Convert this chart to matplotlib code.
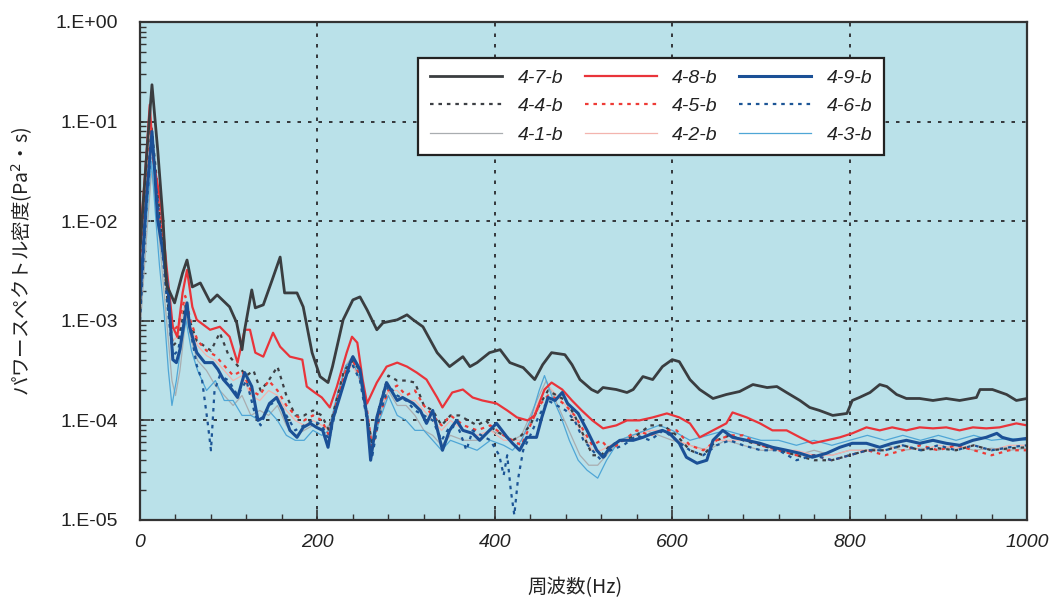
import numpy as np
import matplotlib
matplotlib.use("Agg")
import matplotlib.pyplot as plt
from matplotlib.ticker import FixedLocator, NullFormatter, LogLocator

plt.rcParams['font.family'] = ['Liberation Sans', 'Noto Sans CJK JP', 'DejaVu Sans']

# Power spectral density, stored as base-10 exponents (value = 10**exp)
f_47 = [0, 7, 13.5, 20, 26, 30, 39, 48, 53, 59, 68, 79, 87, 101, 109, 115, 118, 126, 130, 139,
        149, 158, 163, 177, 184, 194, 203, 212, 217, 229, 240, 248, 256, 267, 274, 290, 301, 308,
        319, 335, 349, 364, 372, 380, 394, 406, 417, 432, 445, 454, 464, 479, 487, 496, 509, 516,
        522, 537, 549, 556, 567, 578, 589, 600, 608, 620, 631, 646, 661, 676, 691, 707, 718, 729,
        744, 755, 766, 781, 797, 803, 811, 823, 834, 842, 853, 864, 879, 894, 909, 924, 943, 947,
        961, 977, 988, 1000]
e_47 = [-2.29, -1.39, -0.63, -1.29, -1.99, -2.64, -2.82, -2.52, -2.39, -2.66, -2.62, -2.81, -2.74,
        -2.86, -3.02, -3.29, -3.09, -2.69, -2.87, -2.84, -2.59, -2.36, -2.72, -2.72, -2.86, -3.32,
        -3.56, -3.62, -3.46, -2.99, -2.79, -2.76, -2.89, -3.09, -3.02, -2.99, -2.94, -2.99, -3.06,
        -3.32, -3.46, -3.36, -3.46, -3.42, -3.32, -3.29, -3.42, -3.47, -3.59, -3.44, -3.32, -3.34,
        -3.44, -3.59, -3.69, -3.72, -3.67, -3.69, -3.72, -3.69, -3.56, -3.59, -3.46, -3.39, -3.41,
        -3.59, -3.69, -3.78, -3.74, -3.71, -3.64, -3.67, -3.66, -3.72, -3.80, -3.87, -3.90, -3.95,
        -3.93, -3.80, -3.77, -3.72, -3.64, -3.66, -3.74, -3.78, -3.78, -3.80, -3.78, -3.80, -3.77,
        -3.69, -3.69, -3.74, -3.80, -3.78]

f_48 = [0, 6, 11, 15, 23, 30, 37, 42, 48, 53, 59, 64, 79, 90, 101, 110, 118, 124, 130, 139, 150,
        158, 169, 183, 188, 197, 205, 214, 222, 233, 239, 245, 251, 256, 267, 278, 290, 301, 312,
        323, 335, 341, 352, 364, 375, 386, 402, 414, 425, 437, 445, 456, 464, 476, 487, 498, 510,
        522, 537, 549, 563, 578, 594, 608, 620, 631, 646, 661, 668, 684, 699, 713, 729, 744, 758,
        774, 789, 803, 819, 834, 848, 864, 879, 894, 909, 924, 939, 954, 969, 988, 1000]
e_48 = [-2.19, -1.49, -0.83, -1.39, -1.79, -2.46, -3.06, -3.16, -2.72, -2.49, -2.86, -2.99, -3.09,
        -3.06, -3.16, -3.42, -3.09, -3.09, -3.32, -3.36, -3.12, -3.26, -3.36, -3.39, -3.66, -3.72,
        -3.77, -3.87, -3.66, -3.32, -3.16, -3.22, -3.59, -3.83, -3.62, -3.46, -3.42, -3.46, -3.52,
        -3.59, -3.77, -3.87, -3.72, -3.69, -3.77, -3.80, -3.83, -3.90, -3.97, -4.00, -3.95, -3.69,
        -3.62, -3.69, -3.80, -3.90, -4.00, -4.08, -4.05, -4.00, -4.00, -3.97, -3.93, -3.97, -4.03,
        -4.17, -4.10, -4.03, -3.92, -3.97, -4.03, -4.10, -4.10, -4.17, -4.23, -4.20, -4.17, -4.13,
        -4.07, -4.10, -4.07, -4.10, -4.07, -4.08, -4.07, -4.10, -4.07, -4.08, -4.07, -4.03, -4.05]

f_49 = [0, 7, 13.5, 17, 20, 25, 32, 37, 41, 45, 53, 56, 64, 73, 82, 88, 94, 101, 110, 118, 126,
        133, 139, 146, 154, 161, 169, 177, 184, 192, 199, 206, 212, 217, 225, 237, 240, 248, 256,
        260, 267, 278, 290, 296, 308, 316, 323, 330, 341, 349, 357, 364, 375, 383, 394, 402, 414,
        420, 428, 436, 447, 453, 460, 468, 476, 482, 494, 504, 515, 522, 530, 541, 556, 567, 578,
        589, 597, 608, 616, 628, 639, 646, 657, 668, 684, 699, 713, 729, 744, 758, 774, 789, 803,
        819, 834, 848, 864, 879, 894, 909, 924, 939, 954, 966, 972, 984, 1000]
e_49 = [-2.79, -1.79, -1.10, -1.56, -1.99, -2.26, -2.72, -3.39, -3.42, -3.29, -2.82, -3.06, -3.32,
        -3.42, -3.42, -3.49, -3.59, -3.66, -3.77, -3.52, -3.66, -4.00, -3.97, -3.83, -3.77, -3.90,
        -4.10, -4.17, -4.07, -4.03, -4.07, -4.10, -4.27, -4.00, -3.77, -3.42, -3.36, -3.49, -3.97,
        -4.40, -3.97, -3.62, -3.80, -3.77, -3.83, -3.90, -4.03, -3.90, -4.30, -4.10, -4.00, -4.10,
        -4.13, -4.20, -4.10, -4.03, -4.17, -4.23, -4.30, -4.17, -4.17, -3.97, -3.77, -3.80, -3.72,
        -3.83, -3.93, -4.10, -4.30, -4.37, -4.27, -4.20, -4.20, -4.17, -4.13, -4.10, -4.13, -4.23,
        -4.37, -4.43, -4.40, -4.20, -4.10, -4.17, -4.20, -4.23, -4.27, -4.30, -4.33, -4.37, -4.33,
        -4.27, -4.23, -4.23, -4.27, -4.23, -4.20, -4.23, -4.20, -4.23, -4.25, -4.20, -4.17, -4.13,
        -4.17, -4.20, -4.18]

f_44 = [0, 7, 13, 18, 24, 31, 37, 43, 51, 56, 64, 72, 80, 90, 100, 110, 120, 128, 136, 145, 155,
        165, 175, 185, 195, 205, 213, 220, 230, 240, 248, 256, 262, 270, 280, 290, 300, 310, 320,
        330, 340, 350, 360, 370, 380, 390, 400, 410, 420, 430, 440, 450, 460, 470, 480, 490, 500,
        510, 520, 530, 545, 560, 575, 590, 605, 620, 635, 650, 665, 680, 700, 720, 740, 760, 780,
        800, 820, 840, 860, 880, 900, 920, 940, 960, 980, 1000]
e_44 = [-2.9, -1.8, -1.05, -1.5, -2.1, -2.8, -3.25, -3.2, -2.85, -3.0, -3.2, -3.25, -3.3, -3.12,
        -3.35, -3.45, -3.55, -3.5, -3.7, -3.6, -3.46, -3.75, -3.95, -3.95, -3.9, -3.95, -4.1, -3.85,
        -3.5, -3.4, -3.5, -3.95, -4.25, -3.85, -3.55, -3.6, -3.6, -3.62, -3.85, -3.9, -4.05, -3.95,
        -3.95, -4.0, -4.05, -4.0, -4.1, -4.15, -4.2, -4.15, -4.05, -3.85, -3.7, -3.75, -3.8, -3.95,
        -4.15, -4.35, -4.35, -4.25, -4.2, -4.15, -4.05, -4.05, -4.15, -4.3, -4.35, -4.2, -4.15, -4.2,
        -4.25, -4.3, -4.35, -4.4, -4.4, -4.35, -4.3, -4.3, -4.25, -4.3, -4.28, -4.3, -4.25, -4.3,
        -4.28, -4.27]

f_45 = [0, 6, 11, 16, 23, 30, 37, 43, 51, 57, 65, 75, 85, 95, 105, 115, 125, 135, 145, 155, 165,
        175, 185, 195, 205, 213, 222, 232, 240, 248, 256, 262, 270, 280, 290, 300, 310, 320, 330,
        340, 350, 365, 380, 395, 410, 420, 430, 440, 450, 460, 470, 480, 490, 500, 510, 520, 530,
        545, 560, 575, 590, 605, 620, 635, 650, 665, 680, 700, 720, 740, 760, 780, 800, 820, 840,
        860, 880, 900, 920, 940, 960, 980, 1000]
e_45 = [-2.4, -1.6, -0.95, -1.4, -2.0, -2.6, -3.1, -3.05, -2.75, -3.0, -3.2, -3.3, -3.35, -3.45,
        -3.55, -3.5, -3.7, -3.75, -3.6, -3.7, -3.85, -3.95, -4.0, -3.95, -4.0, -4.15, -3.8, -3.5,
        -3.4, -3.55, -3.9, -4.3, -3.95, -3.7, -3.65, -3.75, -3.7, -3.85, -3.95, -4.05, -3.95, -4.05,
        -4.1, -4.05, -4.15, -4.2, -4.25, -4.05, -3.85, -3.75, -3.78, -3.85, -3.95, -4.1, -4.25, -4.2,
        -4.3, -4.2, -4.1, -4.15, -4.1, -4.1, -4.25, -4.3, -4.2, -4.15, -4.15, -4.25, -4.3, -4.35,
        -4.35, -4.4, -4.35, -4.3, -4.35, -4.3, -4.25, -4.3, -4.25, -4.3, -4.35, -4.3, -4.3]

f_46 = [0, 7, 13, 18, 24, 31, 37, 43, 52, 58, 64, 70, 76, 80, 84, 90, 100, 110, 120, 130, 136,
        145, 155, 165, 175, 185, 195, 205, 213, 222, 232, 240, 248, 256, 262, 270, 280, 290, 300,
        310, 320, 330, 340, 350, 360, 368, 375, 385, 395, 405, 410, 414, 418, 422, 426, 432, 440,
        450, 460, 470, 480, 490, 500, 510, 520, 530, 545, 560, 575, 590, 605, 620, 635, 650, 665,
        680, 700, 720, 740, 760, 780, 800, 820, 840, 860, 880, 900, 920, 940, 960, 980, 1000]
e_46 = [-3.0, -1.9, -1.2, -1.6, -2.2, -2.85, -3.35, -3.3, -2.85, -3.15, -3.45, -3.6, -4.0, -4.3,
        -3.7, -3.55, -3.6, -3.75, -3.6, -3.95, -4.05, -3.85, -3.8, -3.95, -4.1, -4.05, -4.0, -4.05,
        -4.2, -3.85, -3.55, -3.45, -3.6, -4.0, -4.35, -3.95, -3.65, -3.75, -3.8, -3.9, -3.95, -4.0,
        -4.2, -4.05, -4.1, -4.3, -4.1, -4.15, -4.2, -4.35, -4.55, -4.35, -4.7, -4.95, -4.6, -4.3,
        -4.15, -3.95, -3.8, -3.85, -3.9, -4.0, -4.2, -4.3, -4.4, -4.3, -4.25, -4.15, -4.2, -4.1,
        -4.2, -4.3, -4.35, -4.25, -4.2, -4.25, -4.3, -4.3, -4.4, -4.35, -4.4, -4.35, -4.3, -4.3,
        -4.25, -4.3, -4.25, -4.3, -4.25, -4.3, -4.27, -4.25]

f_41 = [0, 7, 13, 18, 24, 31, 36, 40, 45, 52, 58, 65, 75, 85, 95, 105, 115, 125, 135, 145, 155,
        165, 175, 185, 195, 205, 213, 222, 232, 240, 248, 256, 262, 270, 280, 290, 300, 310, 320,
        330, 340, 350, 365, 380, 395, 410, 420, 430, 440, 450, 458, 466, 476, 486, 496, 506, 516,
        526, 540, 555, 570, 585, 600, 620, 640, 660, 680, 700, 720, 740, 760, 780, 800, 820, 840,
        860, 880, 900, 920, 940, 960, 980, 1000]
e_41 = [-3.1, -2.2, -1.5, -1.8, -2.4, -3.1, -3.6, -3.75, -3.5, -2.95, -3.2, -3.4, -3.5, -3.65,
        -3.75, -3.85, -3.75, -3.95, -3.9, -3.95, -3.85, -4.05, -4.15, -4.1, -4.05, -4.1, -4.05,
        -3.8, -3.45, -3.35, -3.55, -3.95, -4.2, -3.95, -3.7, -3.85, -3.85, -3.95, -4.1, -4.15,
        -4.25, -4.15, -4.2, -4.2, -4.1, -4.15, -4.2, -4.15, -3.95, -3.75, -3.6, -3.75, -3.95, -4.15,
        -4.35, -4.45, -4.45, -4.35, -4.2, -4.15, -4.1, -4.15, -4.2, -4.25, -4.3, -4.2, -4.25, -4.3,
        -4.3, -4.35, -4.3, -4.35, -4.3, -4.3, -4.25, -4.3, -4.28, -4.3, -4.25, -4.3, -4.28, -4.3,
        -4.28]

f_42 = [0, 6, 11, 16, 23, 30, 37, 43, 51, 57, 65, 75, 85, 95, 105, 115, 125, 135, 145, 155, 165,
        175, 185, 195, 205, 213, 222, 232, 240, 248, 256, 262, 270, 280, 290, 300, 310, 320, 330,
        340, 350, 365, 380, 395, 410, 420, 430, 440, 450, 460, 470, 480, 490, 500, 510, 520, 530,
        545, 560, 575, 590, 605, 620, 635, 650, 665, 680, 700, 720, 740, 760, 780, 800, 820, 840,
        860, 880, 900, 920, 940, 960, 980, 1000]
e_42 = [-2.6, -1.7, -1.05, -1.5, -2.1, -2.7, -3.2, -3.15, -2.8, -3.05, -3.25, -3.35, -3.4, -3.5,
        -3.6, -3.55, -3.75, -3.8, -3.7, -3.75, -3.9, -4.0, -4.05, -4.0, -4.05, -4.1, -3.8, -3.5,
        -3.45, -3.6, -3.95, -4.2, -3.9, -3.7, -3.7, -3.8, -3.8, -3.9, -4.0, -4.1, -4.0, -4.1, -4.15,
        -4.1, -4.2, -4.2, -4.2, -4.0, -3.8, -3.65, -3.75, -3.85, -4.0, -4.15, -4.3, -4.3, -4.25,
        -4.2, -4.15, -4.1, -4.1, -4.2, -4.25, -4.3, -4.2, -4.2, -4.2, -4.25, -4.3, -4.3, -4.35,
        -4.35, -4.3, -4.3, -4.3, -4.25, -4.3, -4.25, -4.28, -4.25, -4.3, -4.25, -4.25]

f_43 = [0, 7, 13, 18, 22, 27, 32, 36, 41, 47, 52, 58, 65, 75, 85, 95, 105, 115, 125, 135, 145,
        155, 165, 175, 185, 195, 205, 213, 222, 232, 240, 248, 256, 262, 270, 280, 290, 300, 310,
        320, 330, 340, 350, 365, 380, 395, 410, 420, 430, 440, 450, 456, 464, 474, 484, 494, 504,
        516, 526, 540, 555, 570, 585, 600, 620, 640, 660, 680, 700, 720, 740, 760, 780, 800, 820,
        840, 860, 880, 900, 920, 940, 960, 980, 1000]
e_43 = [-2.8, -2.0, -1.4, -2.0, -2.45, -2.9, -3.5, -3.85, -3.6, -3.2, -3.0, -3.3, -3.5, -3.7,
        -3.6, -3.8, -3.8, -3.95, -3.95, -4.0, -3.9, -4.0, -4.15, -4.2, -4.2, -4.1, -4.15, -4.1,
        -3.75, -3.45, -3.4, -3.6, -3.95, -4.25, -4.0, -3.75, -3.95, -4.0, -4.1, -4.1, -4.2, -4.3,
        -4.2, -4.25, -4.3, -4.2, -4.25, -4.3, -4.2, -4.0, -3.7, -3.55, -3.75, -3.95, -4.2, -4.4,
        -4.5, -4.58, -4.4, -4.2, -4.15, -4.1, -4.05, -4.1, -4.2, -4.15, -4.1, -4.15, -4.2, -4.2,
        -4.25, -4.2, -4.25, -4.2, -4.15, -4.2, -4.15, -4.2, -4.15, -4.2, -4.15, -4.2, -4.18, -4.2]

x_ticks = [0, 200, 400, 600, 800, 1000]
y_ticks = [1e-5, 1e-4, 1e-3, 1e-2, 1e-1, 1e0]
y_tick_labels = ['1.E-05', '1.E-04', '1.E-03', '1.E-02', '1.E-01', '1.E+00']

# series: (label, freq, exponents, color, linewidth, linestyle)
series = [
    ('4-1-b', f_41, e_41, '#a9adb0', 0.9, '-'),
    ('4-2-b', f_42, e_42, '#f3b4ae', 0.9, '-'),
    ('4-3-b', f_43, e_43, '#4fa6d6', 0.9, '-'),
    ('4-4-b', f_44, e_44, '#3c3f44', 1.6, (0, (1.6, 2.2))),
    ('4-5-b', f_45, e_45, '#ee3b36', 1.6, (0, (1.6, 2.2))),
    ('4-6-b', f_46, e_46, '#1c5596', 1.6, (0, (1.6, 2.2))),
    ('4-8-b', f_48, e_48, '#e9343a', 1.6, '-'),
    ('4-9-b', f_49, e_49, '#1b5096', 2.2, '-'),
    ('4-7-b', f_47, e_47, '#3a3d40', 2.0, '-'),
]

fig = plt.figure(figsize=(10.63, 6.05), dpi=100)
fig.patch.set_facecolor('white')
ax = fig.add_axes([140 / 1063, 1 - 520 / 605, 887 / 1063, 498 / 605])
ax.set_facecolor('#bae1e9')

handles = {}
for label, f, e, color, lw, ls in series:
    line, = ax.plot(f, 10.0 ** np.asarray(e), color=color, lw=lw, ls=ls, label=label)
    handles[label] = line

ax.set_yscale('log')
ax.set_xlim(0, 1000)
ax.set_ylim(1e-5, 1e0)

ax.xaxis.set_major_locator(FixedLocator(x_ticks))
ax.xaxis.set_minor_locator(FixedLocator(list(range(0, 1001, 40))))
ax.set_xticklabels([str(v) for v in x_ticks], fontsize=14, style='italic', color='#222222')
ax.yaxis.set_major_locator(FixedLocator(y_ticks))
ax.yaxis.set_minor_locator(LogLocator(base=10, subs=np.arange(2, 10)))
ax.yaxis.set_minor_formatter(NullFormatter())
ax.set_yticklabels(y_tick_labels, fontsize=14, color='#222222')

ax.tick_params(axis='both', which='major', direction='in', length=7, width=1.2, color='#333333')
ax.tick_params(axis='both', which='minor', direction='in', length=4, width=1.0, color='#333333')
ax.tick_params(axis='y', which='major', pad=16)
ax.tick_params(axis='x', which='major', pad=10)
ax.tick_params(top=False, right=False, which='both')

ax.grid(True, which='major', color='#34373b', lw=1.4, ls=(0, (1.8, 3.6)))
for s in ax.spines.values():
    s.set_color('#333333')
    s.set_linewidth(1.6)

ax.set_xlabel('周波数(Hz)', fontsize=14, style='italic',
              family=['Noto Sans CJK JP', 'DejaVu Sans'], color='#222222')
ax.xaxis.set_label_coords(0.49, -0.115)
ax.set_ylabel('パワースペクトル密度(Pa$^2$・s)', fontsize=14, style='italic',
              family=['Noto Sans CJK JP', 'DejaVu Sans'], color='#222222')
ax.yaxis.set_label_coords(-0.118, 0.52)

order = ['4-7-b', '4-4-b', '4-1-b', '4-8-b', '4-5-b', '4-2-b', '4-9-b', '4-6-b', '4-3-b']
leg = ax.legend([handles[k] for k in order], order, ncol=3, loc='upper left',
                bbox_to_anchor=(0.303, 0.948), fancybox=False, framealpha=1.0,
                edgecolor='#222222', prop={'size': 14, 'style': 'italic'},
                handlelength=3.7, columnspacing=1.1, labelspacing=0.55,
                borderpad=0.6, handletextpad=0.8)
leg.get_frame().set_linewidth(1.6)
for t in leg.get_texts():
    t.set_color('#222222')

fig.savefig('out.png', dpi=100, facecolor='white')
